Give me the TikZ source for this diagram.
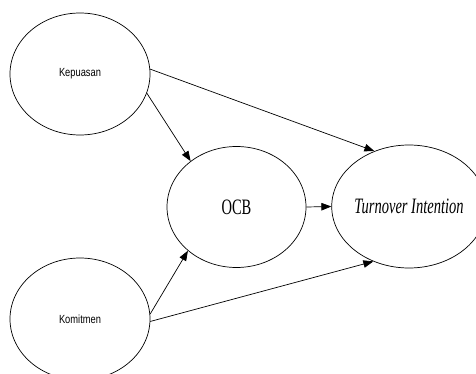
\documentclass[tikz,border=0pt]{standalone}
\usepackage{graphicx}
\usepackage{fontspec}
\setmainfont{Liberation Serif}
\newfontfamily\arialfont{Liberation Sans}
\usetikzlibrary{arrows.meta, shapes.geometric}

\begin{document}
\begin{tikzpicture}[x=1pt, y=-1pt]
		\tikzset{var/.style = {shape=ellipse, draw, line width=0.7pt, inner sep=0pt, minimum width=140pt, minimum height=122pt}}
		\tikzset{edge/.style = {line width=0.7pt, -{Triangle[length=10pt, width=7.5pt]}}}
		\useasboundingbox (0,0) rectangle (476,374);

		\node[var] (kep) at (80,74) {\arialfont\fontsize{11.8}{12}\selectfont\scalebox{0.79}[1]{Kepuasan}};
		\node[var] (kom) at (80,319) {\arialfont\fontsize{11.8}{12}\selectfont\scalebox{0.79}[1]{Komitmen}};
		\node[var, minimum width=139pt, minimum height=121pt] (ocb) at (236.5,207) {\fontsize{22}{24}\selectfont\scalebox{0.66}[1]{OCB}};
		\node[var, minimum width=138pt, minimum height=123pt] (turn) at (409,206.5) {\fontsize{22}{24}\selectfont\scalebox{0.66}[1]{\itshape Turnover Intention}};

		\draw[edge] (kep.4) to (turn.122);
		\draw[edge] (kep.-16) to (ocb.135);
		\draw[edge] (ocb.east) to (turn.west);
		\draw[edge] (kom.4) to (ocb.222);
		\draw[edge] (kom.-2) to (turn.237);

	\end{tikzpicture}
\end{document}
